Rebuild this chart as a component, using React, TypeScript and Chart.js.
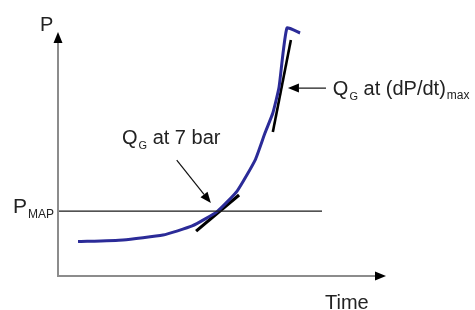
import React, { useEffect, useRef } from "react";
import { Chart, registerables } from "chart.js";

Chart.register(...registerables);

// Pressure curve (time units, pressure units)
const timeValues = [0.61, 1.98, 3.2, 4.09, 4.85, 5.46, 6.01, 6.31, 6.55, 6.74, 6.98, 7.38];
const pressureValues = [1.41, 1.48, 1.68, 2.05, 2.64, 3.48, 4.75, 5.86, 6.68, 7.75, 10.16, 9.96];

// P_MAP reference level
const pMapLevel = 2.66;
const pMapSpan = [0, 8.05];

// Tangents
const tangent7BarTime = [4.21, 5.52];
const tangent7BarP = [1.84, 3.32];
const tangentMaxTime = [6.55, 7.1];
const tangentMaxP = [5.9, 9.67];

// Annotation arrows [fromT, fromP, toT, toP]
const arrow7Bar = [3.62, 4.75, 4.66, 2.99];
const arrowMax = [8.17, 7.7, 7.01, 7.7];

// Labels
const axisYLabel = "P";
const axisXLabel = "Time";
const label7Bar = ["Q", "G", " at 7 bar", ""];
const labelMax = ["Q", "G", " at (dP/dt)", "max"];
const label7BarAt = [1.95, 5.41];
const labelMaxAt = [8.38, 7.42];

const FONT = "'Liberation Sans', Arial, Helvetica, sans-serif";

function pts(xs: number[], ys: number[]) {
  return xs.map((x, i) => ({ x, y: ys[i] }));
}

const overlay = {
  id: "overlay",
  afterDatasetsDraw(chart: any) {
    const ctx = chart.ctx as CanvasRenderingContext2D;
    const xs = chart.scales.x;
    const ys = chart.scales.y;
    const X = (v: number) => xs.getPixelForValue(v);
    const Y = (v: number) => ys.getPixelForValue(v);
    const ox = X(0);
    const oy = Y(0);
    const topY = Y(10);
    const rightX = X(10);
    ctx.save();
    // axes
    ctx.strokeStyle = "#8c8c8c";
    ctx.lineWidth = 2;
    ctx.beginPath();
    ctx.moveTo(ox, oy);
    ctx.lineTo(ox, topY + 8);
    ctx.moveTo(ox - 1, oy);
    ctx.lineTo(rightX - 8, oy);
    ctx.stroke();
    ctx.fillStyle = "#000";
    ctx.beginPath();
    ctx.moveTo(ox, topY);
    ctx.lineTo(ox - 4.5, topY + 11);
    ctx.lineTo(ox + 4.5, topY + 11);
    ctx.closePath();
    ctx.fill();
    ctx.beginPath();
    ctx.moveTo(rightX, oy);
    ctx.lineTo(rightX - 11, oy - 4.5);
    ctx.lineTo(rightX - 11, oy + 4.5);
    ctx.closePath();
    ctx.fill();

    // annotation arrows
    const drawArrow = (a: number[]) => {
      const x1 = X(a[0]), y1 = Y(a[1]), x2 = X(a[2]), y2 = Y(a[3]);
      const ang = Math.atan2(y2 - y1, x2 - x1);
      const hl = 11, hw = 4.5;
      const bx = x2 - hl * Math.cos(ang), by = y2 - hl * Math.sin(ang);
      ctx.strokeStyle = "#111";
      ctx.lineWidth = 1.2;
      ctx.beginPath();
      ctx.moveTo(x1, y1);
      ctx.lineTo(bx, by);
      ctx.stroke();
      ctx.fillStyle = "#000";
      ctx.beginPath();
      ctx.moveTo(x2, y2);
      ctx.lineTo(bx + hw * Math.sin(ang), by - hw * Math.cos(ang));
      ctx.lineTo(bx - hw * Math.sin(ang), by + hw * Math.cos(ang));
      ctx.closePath();
      ctx.fill();
    };
    drawArrow(arrow7Bar);
    drawArrow(arrowMax);

    // texts
    ctx.fillStyle = "#222";
    ctx.textBaseline = "alphabetic";
    ctx.textAlign = "left";
    const rich = (parts: string[], at: number[]) => {
      let x = X(at[0]);
      const y = Y(at[1]);
      ctx.font = `20px ${FONT}`;
      ctx.fillText(parts[0], x, y);
      x += ctx.measureText(parts[0]).width + 1;
      ctx.font = `11px ${FONT}`;
      ctx.fillText(parts[1], x, y + 5);
      x += ctx.measureText(parts[1]).width;
      ctx.font = `20px ${FONT}`;
      ctx.fillText(parts[2], x, y);
      x += ctx.measureText(parts[2]).width + 1;
      if (parts[3]) {
        ctx.font = `12px ${FONT}`;
        ctx.fillText(parts[3], x, y + 4);
      }
    };
    rich(label7Bar, label7BarAt);
    rich(labelMax, labelMaxAt);

    ctx.font = `20px ${FONT}`;
    ctx.fillText(axisYLabel, ox - 18, topY - 1);
    ctx.fillText(axisXLabel, X(8.14), oy + 33);
    // P_MAP label
    const py = Y(pMapLevel);
    ctx.font = `21px ${FONT}`;
    ctx.fillText("P", ox - 45, py + 2);
    ctx.font = `12px ${FONT}`;
    ctx.fillText("MAP", ox - 30, py + 7);
    ctx.restore();
  },
};

export default function App() {
  const ref = useRef<HTMLCanvasElement | null>(null);
  useEffect(() => {
    if (!ref.current) return;
    const chart = new Chart(ref.current, {
      type: "line",
      data: {
        datasets: [
          {
            data: pts(pMapSpan, [pMapLevel, pMapLevel]),
            borderColor: "#1a1a1a",
            borderWidth: 1.2,
            pointRadius: 0,
            tension: 0,
          },
          {
            data: pts(timeValues, pressureValues),
            borderColor: "#2b2b98",
            borderWidth: 3,
            pointRadius: 0,
            tension: 0.15,
            clip: false as any,
          },
          {
            data: pts(tangent7BarTime, tangent7BarP),
            borderColor: "#000",
            borderWidth: 3.2,
            pointRadius: 0,
            tension: 0,
          },
          {
            data: pts(tangentMaxTime, tangentMaxP),
            borderColor: "#000",
            borderWidth: 2.6,
            pointRadius: 0,
            tension: 0,
          },
        ],
      },
      options: {
        responsive: false,
        animation: false,
        layout: { padding: { left: 58, right: 89, top: 32, bottom: 34 } },
        plugins: { legend: { display: false }, tooltip: { enabled: false } },
        scales: {
          x: { type: "linear", min: 0, max: 10, display: false },
          y: { type: "linear", min: 0, max: 10, display: false },
        },
      },
      plugins: [overlay],
    });
    return () => chart.destroy();
  }, []);
  return (
    <div style={{ position: "absolute", left: 0, top: 0, width: 475, height: 310, background: "#fff" }}>
      <canvas ref={ref} width={475} height={310} />
    </div>
  );
}
